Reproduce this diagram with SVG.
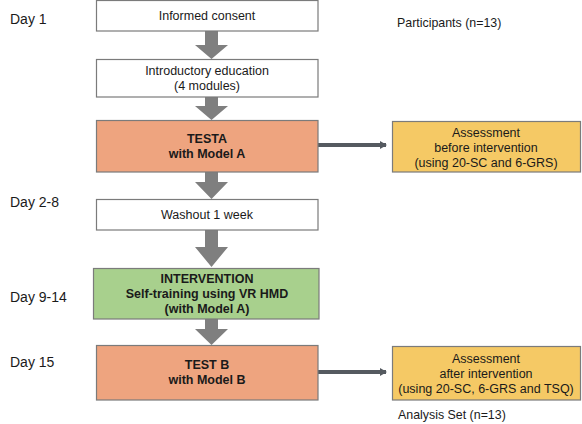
<svg xmlns="http://www.w3.org/2000/svg" width="582" height="424" viewBox="0 0 582 424">
<defs>
<style>
.box{stroke:#7b7b7b;stroke-width:1.2}
.w{fill:#ffffff}
.o{fill:#eea47f}
.g{fill:#a8d08d}
.y{fill:#f5c965}
.t{font-family:"Liberation Sans",Arial,sans-serif;font-size:12.5px;fill:#1a1a1a;text-anchor:middle}
.b{font-weight:bold}
.day{font-family:"Liberation Sans",Arial,sans-serif;font-size:14px;fill:#1a1a1a}
.lab{font-family:"Liberation Sans",Arial,sans-serif;font-size:12.4px;fill:#1a1a1a}
.blk{fill:#7f7f7f}
.con{stroke:#555a60;stroke-width:4;fill:none}
</style>
<marker id="ah" markerWidth="7" markerHeight="8" refX="6" refY="4" orient="auto" markerUnits="userSpaceOnUse" viewBox="0 0 7 8">
<path d="M0,0 L7,4 L0,8 z" fill="#555a60"/>
</marker>
</defs>
<rect width="582" height="424" fill="#ffffff"/>
<g id="labels">
<text class="day" x="10" y="24">Day 1</text>
<text class="day" x="10" y="207">Day 2-8</text>
<text class="day" x="10" y="302">Day 9-14</text>
<text class="day" x="10" y="367">Day 15</text>
<text class="lab" x="397" y="27">Participants (n=13)</text>
<text class="lab" x="398" y="419">Analysis Set (n=13)</text>
</g>
<g id="connectors">
<path class="blk" d="M205,31 H218 V45 H228 L211.5,59 L195,45 H205 Z"/>
<path class="blk" d="M205,97 H218 V106 H228 L211.5,120 L195,106 H205 Z"/>
<path class="blk" d="M205,172 H218 V182 H228 L211.5,199 L195,182 H205 Z"/>
<path class="blk" d="M205,230 H218 V247 H228 L211.5,267 L195,247 H205 Z"/>
<path class="blk" d="M205,319 H218 V329 H228 L211.5,345 L195,329 H205 Z"/>
<line class="con" x1="318" y1="145" x2="386" y2="145" marker-end="url(#ah)"/>
<line class="con" x1="318" y1="372" x2="386" y2="372" marker-end="url(#ah)"/>
</g>
<g id="consent">
<rect class="box w" x="96.5" y="0.5" width="221.5" height="30.5"/>
<text class="t" x="207" y="20">Informed consent</text>
</g>
<g id="education">
<rect class="box w" x="96.5" y="59.5" width="221.5" height="37.5"/>
<text class="t" x="207" y="75">Introductory education</text>
<text class="t" x="207" y="90">(4 modules)</text>
</g>
<g id="testA">
<rect class="box o" x="96.5" y="120.5" width="221.5" height="51.5"/>
<text class="t b" x="207" y="143">TESTA</text>
<text class="t b" x="207" y="158">with Model A</text>
</g>
<g id="washout">
<rect class="box w" x="96.5" y="199.5" width="221.5" height="30.5"/>
<text class="t" x="207" y="219">Washout 1 week</text>
</g>
<g id="intervention">
<rect class="box g" x="93.5" y="268.5" width="225.5" height="50.5"/>
<text class="t b" x="207" y="283">INTERVENTION</text>
<text class="t b" x="207" y="298">Self-training using VR HMD</text>
<text class="t b" x="207" y="313">(with Model A)</text>
</g>
<g id="testB">
<rect class="box o" x="96.5" y="345.5" width="221.5" height="54.5"/>
<text class="t b" x="207" y="369">TEST B</text>
<text class="t b" x="207" y="384">with Model B</text>
</g>
<g id="assessBefore">
<rect class="box y" x="392.5" y="121.5" width="188" height="50.5"/>
<text class="t" x="486" y="137">Assessment</text>
<text class="t" x="486" y="152">before intervention</text>
<text class="t" x="486" y="167">(using 20-SC and 6-GRS)</text>
</g>
<g id="assessAfter">
<rect class="box y" x="392.5" y="346.5" width="188" height="53.5"/>
<text class="t" x="486" y="363">Assessment</text>
<text class="t" x="486" y="378">after intervention</text>
<text class="t" x="486" y="393">(using 20-SC, 6-GRS and TSQ)</text>
</g>
</svg>
